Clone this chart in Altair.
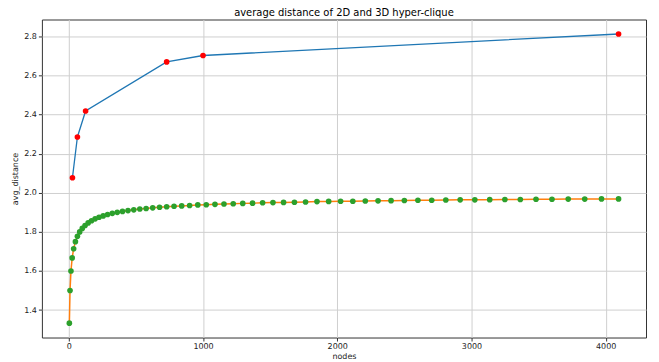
import altair as alt
import pandas as pd

# 3D hyper-clique (nodes = k^3)
nodes_3d = [27, 64, 125, 729, 1000, 4096]
avg_3d = [2.077, 2.286, 2.419, 2.670, 2.703, 2.813]

# 2D hyper-clique (nodes = k^2)
nodes_2d = [4, 9, 16, 25, 36, 49, 64, 81, 100, 121, 144, 169, 196, 225, 256, 289,
            324, 361, 400, 441, 484, 529, 576, 625, 676, 729, 784, 841, 900, 961,
            1024, 1089, 1156, 1225, 1296, 1369, 1444, 1521, 1600, 1681, 1764, 1849,
            1936, 2025, 2116, 2209, 2304, 2401, 2500, 2601, 2704, 2809, 2916, 3025,
            3136, 3249, 3364, 3481, 3600, 3721, 3844, 3969, 4096]
avg_2d = [1.333, 1.500, 1.600, 1.667, 1.714, 1.750, 1.778, 1.800, 1.818, 1.833,
          1.846, 1.857, 1.867, 1.875, 1.882, 1.889, 1.895, 1.900, 1.905, 1.909,
          1.913, 1.917, 1.920, 1.923, 1.926, 1.929, 1.931, 1.933, 1.935, 1.938,
          1.939, 1.941, 1.943, 1.944, 1.946, 1.947, 1.949, 1.950, 1.951, 1.952,
          1.953, 1.955, 1.956, 1.957, 1.957, 1.958, 1.959, 1.960, 1.961, 1.962,
          1.962, 1.963, 1.964, 1.964, 1.965, 1.966, 1.966, 1.967, 1.967, 1.968,
          1.968, 1.969, 1.969]

x_ticks = [0, 1000, 2000, 3000, 4000]
y_ticks = [1.4, 1.6, 1.8, 2.0, 2.2, 2.4, 2.6, 2.8]

df3 = pd.DataFrame({"nodes": nodes_3d, "avg_distance": avg_3d})
df2 = pd.DataFrame({"nodes": nodes_2d, "avg_distance": avg_2d})

FONT = "DejaVu Sans"

x_enc = alt.X("nodes:Q",
              scale=alt.Scale(domain=[-200.6, 4300.6], nice=False, zero=False),
              axis=alt.Axis(values=x_ticks, title="nodes", format="d"))
y_enc = alt.Y("avg_distance:Q",
              scale=alt.Scale(domain=[1.2593, 2.8872], nice=False, zero=False),
              axis=alt.Axis(values=y_ticks, title="avg_distance", format=".1f"))

line3 = alt.Chart(df3).mark_line(color="#1f77b4", strokeWidth=1.3).encode(x=x_enc, y=y_enc)
pts3 = alt.Chart(df3).mark_circle(color="#ff0000", size=32, opacity=1).encode(x=x_enc, y=y_enc)
line2 = alt.Chart(df2).mark_line(color="#ff7f0e", strokeWidth=1.5).encode(x=x_enc, y=y_enc)
pts2 = alt.Chart(df2).mark_circle(color="#2ca02c", size=32, opacity=1).encode(x=x_enc, y=y_enc)

chart = alt.layer(line3, pts3, line2, pts2).properties(
    width=606, height=319,
    title=alt.TitleParams("average distance of 2D and 3D hyper-clique",
                          font=FONT, fontSize=10, fontWeight="normal",
                          color="#000", offset=2),
    autosize=alt.AutoSizeParams(type="none"),
    padding={"left": 34, "top": 11, "right": 5, "bottom": 22},
).configure_axis(
    labelFont=FONT, labelFontSize=8, labelColor="#222",
    titleFont=FONT, titleFontSize=8, titleColor="#222", titleFontWeight="normal",
    grid=True, gridColor="#cfcfcf", gridWidth=1,
    domain=False, ticks=True, tickSize=3.5, tickColor="#333", labelPadding=2,
).configure_axisX(titlePadding=2).configure_axisY(titlePadding=4).configure_view(
    stroke="#333", strokeWidth=1
)

chart.save("out.html", embed_options={"renderer": "svg", "actions": False})
